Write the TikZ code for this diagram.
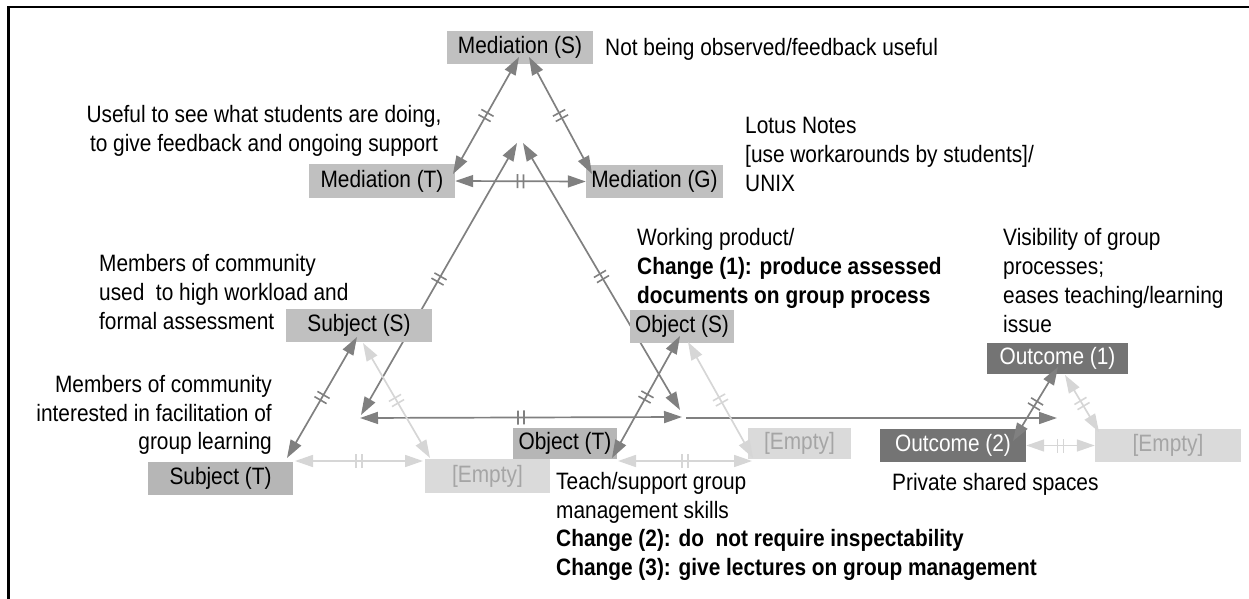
\documentclass[tikz,border=0pt]{standalone}
\usepackage{fontspec}
\setmainfont{Liberation Sans}[FakeStretch=0.88]
\usetikzlibrary{arrows.meta,decorations.markings}

\definecolor{boxgray}{RGB}{192,192,192}
\definecolor{boxmid}{RGB}{182,182,182}
\definecolor{boxdark}{RGB}{116,116,116}
\definecolor{boxlight}{RGB}{218,218,218}
\definecolor{emptytext}{RGB}{165,165,165}
\definecolor{linedark}{RGB}{128,128,128}
\definecolor{linelight}{RGB}{214,214,214}

\begin{document}
\begin{tikzpicture}[x=1pt,y=-1pt,
  every node/.style={font=\fontsize{23.7}{28.8}\selectfont, inner sep=0pt},
  box/.style={fill=boxgray, minimum height=33pt, text=black},
  tbox/.style={fill=boxmid, minimum height=33pt, text=black},
  dbox/.style={fill=boxdark, minimum height=33pt, text=white},
  ebox/.style={fill=boxlight, minimum height=33pt, text=emptytext},
  note/.style={text=black},
  link/.style={draw=#1, line width=1.7pt,
    {Triangle[length=18pt,width=12pt]}-{Triangle[length=18pt,width=12pt]},
    postaction={decorate},
    decoration={markings, mark=at position 0.5 with {
      \draw[#1, line width=1.6pt, -] (-3pt,-7pt) -- (-3pt,7pt)
                                     (3pt,-7pt) -- (3pt,7pt);}}},
  feed/.style={draw=linedark, line width=1.7pt, -{Triangle[length=18pt,width=12pt]}}
]
\useasboundingbox (0,0) rectangle (1249,599);

% frame
\draw[line width=2.5pt] (8.5,599) -- (8.5,7) -- (1249,7);

% points where the connectors end
\coordinate (mS-a) at (519,57);
\coordinate (mS-b) at (529,57);
\coordinate (mT-a) at (453,174);
\coordinate (mG-a) at (592,174);

\coordinate (sS-a) at (357,337);
\coordinate (sS-b) at (363,343);
\coordinate (sT-a) at (287,458);
\coordinate (sE-a) at (430,458);
\coordinate (sT-b) at (295,461);
\coordinate (sE-b) at (423,461);

\coordinate (oS-a) at (680,336);
\coordinate (oS-b) at (688,342);
\coordinate (oT-a) at (612,458);
\coordinate (oE-a) at (753,458);
\coordinate (oT-b) at (618,461);
\coordinate (oE-b) at (752,461);

\coordinate (u1-a) at (1058,367);
\coordinate (u1-b) at (1065,375);
\coordinate (u2-a) at (1013,441);
\coordinate (uE-a) at (1099,432);

\coordinate (cM-a) at (517,143);
\coordinate (cM-b) at (523,143);
\coordinate (cS-a) at (361,415);
\coordinate (cS-b) at (360,418);
\coordinate (cO-a) at (680,410);
\coordinate (cO-b) at (682,417);
\coordinate (cO-c) at (686,418);
\coordinate (cU) at (1057,418);

% links between the sub-triangles (behind the boxes)
\draw[link=linedark] (cM-a) -- (cS-a);
\draw[link=linedark] (cM-b) -- (cO-a);
\draw[link=linedark] (cS-b) -- (cO-b);
\draw[feed] (cO-c) -- (cU);

% boxes
\node[box, minimum width=146pt] (medS) at (520,47.5) {Mediation (S)};
\node[box, minimum width=146pt, minimum height=34pt] (medT) at (382,181) {Mediation (T)};
\node[box, minimum width=137pt] (medG) at (654.5,181.5) {Mediation (G)};
\node[box, minimum width=146pt] (subjS) at (359,325.5) {Subject (S)};
\node[box, minimum width=104pt] (objS) at (682,326.5) {Object (S)};
\node[tbox, minimum width=145pt] (subjT) at (220.5,478.5) {Subject (T)};
\node[ebox, minimum width=125pt, minimum height=34pt] (emptyL) at (487.5,476) {[Empty]};
\node[tbox, minimum width=104pt, minimum height=31pt] (objT) at (565,443.5) {Object (T)};
\node[ebox, minimum width=103pt, minimum height=31pt] (emptyM) at (799.5,443.5) {[Empty]};
\node[dbox, minimum width=141pt, minimum height=31pt] (out1) at (1057.5,358.5) {Outcome (1)};
\node[dbox, minimum width=146pt] (out2) at (953,445.5) {Outcome (2)};
\node[ebox, minimum width=146pt] (emptyR) at (1168,445.5) {[Empty]};

% annotations
\node[note, anchor=base west] (obsNote) at (605,55.5) {Not being observed/feedback useful};
\node[note, align=center] (usefulNote) at (264,131)
  {Useful to see what students are doing,\\to give feedback and ongoing support};
\node[note, align=left, anchor=west] (lotusNote) at (745,154.7)
  {Lotus Notes\\{[use workarounds by students]/}\\UNIX};
\node[note, align=left, anchor=west] (workNote) at (637,268.5)
  {Working product/\\\textbf{Change (1): produce assessed}\\\textbf{documents on group process}};
\node[note, align=left, anchor=west] (membersS) at (99,292.3)
  {Members of community\\used~ to high workload and\\formal assessment};
\node[note, align=left, anchor=west] (visNote) at (1003,280.5)
  {Visibility of group\\processes;\\eases teaching/learning\\issue};
\node[note, align=right, anchor=east] (membersT) at (272,415)
  {Members of community\\interested in facilitation of\\group learning};
\node[note, align=left, anchor=west] (teachNote) at (556,526.5)
  {Teach/support group\\management skills\\\textbf{Change (2): do~ not require inspectability}\\\textbf{Change (3): give lectures on group management}};
\node[note, anchor=base west] (privNote) at (892,490.5) {Private shared spaces};

% mediation triangle
\draw[link=linedark] (mS-a) -- (mT-a);
\draw[link=linedark] (mS-b) -- (mG-a);
\draw[link=linedark] (medT.east) -- (medG.west);

% subject triangle
\draw[link=linedark] (sS-a) -- (sT-a);
\draw[link=linelight] (sS-b) -- (sE-a);
\draw[link=linelight] (sT-b) -- (sE-b);

% object triangle
\draw[link=linedark] (oS-a) -- (oT-a);
\draw[link=linelight] (oS-b) -- (oE-a);
\draw[link=linelight] (oT-b) -- (oE-b);

% outcome triangle
\draw[link=linedark] (u1-a) -- (u2-a);
\draw[link=linelight] (u1-b) -- (uE-a);
\draw[link=linelight] (out2.east) -- (emptyR.west);
\end{tikzpicture}
\end{document}
